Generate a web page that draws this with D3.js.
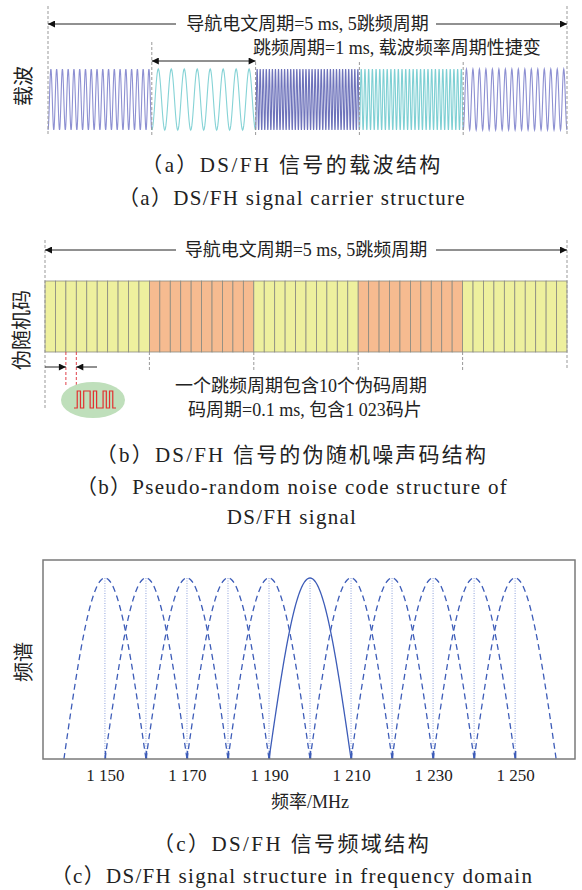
<!DOCTYPE html>
<html>
<head>
    <meta charset="utf-8">
    <title>DS/FH</title>
    <script src="https://cdnjs.cloudflare.com/ajax/libs/d3/7.8.5/d3.min.js"></script>
    <style>
        body { margin: 0; background: #fff; }
        text { font-family: "Liberation Serif", "Noto Sans CJK SC", serif; fill: #222; }
        .cjk { font-family: "Noto Sans CJK SC", sans-serif; }
    </style>
</head>
<body>
<div id="chart"></div>
<script>
    // (a) carrier: cycles drawn inside each 1 ms hop
    var hopCycles = [18, 8, 34, 28, 16];
    var hopColors = ["#8d90d2", "#86d3d6", "#6e73bb", "#7fd0d4", "#8d90d2"];
    // (b) code periods per hop and hop colours
    var codePerHop = 10;
    var hopFill = ["#eef09e", "#f6bb90", "#eef09e", "#f6bb90", "#eef09e"];
    var chips = [0, 1, 0, 1, 1, 0, 1, 0, 0, 1, 0, 1, 0];
    // (c) hop channel centres, MHz
    var centres = [1150, 1160, 1170, 1180, 1190, 1200, 1210, 1220, 1230, 1240, 1250];
    var activeCentre = 1200;
    var tickVals = [1150, 1160, 1170, 1180, 1190, 1200, 1210, 1220, 1230, 1240, 1250];
    var labelVals = [1150, 1170, 1190, 1210, 1230, 1250];

    var width = 582, height = 890;
    var svg = d3.select("#chart").append("svg")
        .attr("width", width)
        .attr("height", height);

    var defs = svg.append("defs");
    defs.append("marker")
        .attr("id", "arr")
        .attr("viewBox", "0 0 10 10")
        .attr("refX", 10).attr("refY", 5)
        .attr("markerWidth", 9).attr("markerHeight", 7)
        .attr("markerUnits", "userSpaceOnUse")
        .attr("orient", "auto-start-reverse")
        .append("path").attr("d", "M0,0L10,5L0,10Z").attr("fill", "#111");

    function arrow(g, x1, x2, y) {
        g.append("line")
            .attr("x1", x1).attr("x2", x2).attr("y1", y).attr("y2", y)
            .attr("stroke", "#222").attr("stroke-width", 1)
            .attr("marker-end", "url(#arr)");
    }
    function vdash(g, x, y1, y2, col) {
        g.append("line")
            .attr("x1", x).attr("x2", x).attr("y1", y1).attr("y2", y2)
            .attr("stroke", col || "#999").attr("stroke-width", 1)
            .attr("stroke-dasharray", "3,2");
    }
    function vlabel(g, txt, x, y) {
        g.append("text").attr("class", "cjk")
            .attr("transform", "translate(" + x + "," + y + ") rotate(-90)")
            .attr("text-anchor", "middle").attr("dominant-baseline", "central")
            .attr("font-size", 20).text(txt);
    }
    // captions: chinese lines get a wider spacing than english ones
    function caption(txt, y, sp) {
        svg.append("text")
            .attr("x", 292).attr("y", y)
            .attr("text-anchor", "middle")
            .attr("font-size", 21)
            .attr("letter-spacing", sp || 1.3)
            .text(txt);
    }

    // ---------- (a) carrier structure ----------
    var ga = svg.append("g");
    var xa = d3.scaleLinear().domain([0, 5]).range([48, 567]);
    var ya = d3.scaleLinear().domain([-1, 1]).range([130, 69]);
    var wave = d3.line().x(function(d) { return xa(d[0]); }).y(function(d) { return ya(d[1]); });

    hopCycles.forEach(function(n, i) {
        var pts = [], N = n * 24;
        for (var k = 0; k <= N; k++) {
            var t = k / N;
            pts.push([i + t, -Math.cos(2 * Math.PI * n * t)]);
        }
        ga.append("path").attr("d", wave(pts))
            .attr("fill", "none").attr("stroke", hopColors[i]).attr("stroke-width", 1.1);
    });

    vdash(ga, xa(0), 6, 136);
    vdash(ga, xa(1), 42, 136);
    [2, 3, 4].forEach(function(t) { vdash(ga, xa(t), 62, 136); });
    vdash(ga, xa(5), 6, 136);

    ga.append("text").attr("x", xa(2.5)).attr("y", 30).attr("text-anchor", "middle")
        .attr("font-size", 18).text("导航电文周期=5 ms, 5跳频周期");
    arrow(ga, 176, xa(0), 24);
    arrow(ga, 436, xa(5), 24);

    ga.append("text").attr("x", 253).attr("y", 54)
        .attr("font-size", 18).text("跳频周期=1 ms, 载波频率周期性捷变");
    ga.append("line").attr("x1", xa(1)).attr("x2", xa(2)).attr("y1", 61).attr("y2", 61)
        .attr("stroke", "#222").attr("marker-start", "url(#arr)").attr("marker-end", "url(#arr)");

    vlabel(ga, "载波", 22, 86);

    caption("（a）DS/FH 信号的载波结构", 172, 2.4);
    caption("（a）DS/FH signal carrier structure", 205);

    // ---------- (b) PRN code structure ----------
    var gb = svg.append("g");
    var xb = d3.scaleLinear().domain([0, 5]).range([45, 567]);
    var cells = d3.range(5 * codePerHop).map(function(k) {
        return { t0: k / codePerHop, t1: (k + 1) / codePerHop, hop: Math.floor(k / codePerHop) };
    });
    gb.selectAll("rect.cell").data(cells).enter().append("rect")
        .attr("class", "cell")
        .attr("x", function(d) { return xb(d.t0); })
        .attr("width", function(d) { return xb(d.t1) - xb(d.t0); })
        .attr("y", 281).attr("height", 71)
        .attr("fill", function(d) { return hopFill[d.hop]; })
        .attr("stroke", "#8a8a80").attr("stroke-width", 0.8);

    vdash(gb, xb(0), 240, 408);
    vdash(gb, xb(5), 240, 370);
    [1, 2, 3, 4].forEach(function(t) { vdash(gb, xb(t), 352, 371); });

    gb.append("text").attr("x", xb(2.5)).attr("y", 256).attr("text-anchor", "middle")
        .attr("font-size", 18).text("导航电文周期=5 ms, 5跳频周期");
    arrow(gb, 176, xb(0), 250);
    arrow(gb, 436, xb(5), 250);

    vdash(gb, xb(0.2), 352, 386, "#e0404a");
    vdash(gb, xb(0.3), 352, 386, "#e0404a");
    arrow(gb, xb(0), xb(0.2), 367);
    arrow(gb, 97, xb(0.3), 367);

    gb.append("ellipse").attr("cx", 93).attr("cy", 400).attr("rx", 32).attr("ry", 18)
        .attr("fill", "#bfdfbb");
    var xc = d3.scaleLinear().domain([0, chips.length]).range([74, 116]);
    var yc = d3.scaleLinear().domain([0, 1]).range([408, 391]);
    var sq = d3.line().curve(d3.curveStepAfter)
        .x(function(d, i) { return xc(i); }).y(function(d) { return yc(d); });
    gb.append("path").attr("d", sq(chips.concat([chips[chips.length - 1]])))
        .attr("fill", "none").attr("stroke", "#e23030").attr("stroke-width", 1.2);

    gb.append("text").attr("x", 175).attr("y", 392).attr("font-size", 18)
        .text("一个跳频周期包含10个伪码周期");
    gb.append("text").attr("x", 188).attr("y", 416).attr("font-size", 18)
        .text("码周期=0.1 ms, 包含1 023码片");

    vlabel(gb, "伪随机码", 20, 330);

    caption("（b）DS/FH 信号的伪随机噪声码结构", 462, 2.2);
    caption("（b）Pseudo-random noise code structure of", 494);
    caption("DS/FH signal", 524);

    // ---------- (c) frequency domain ----------
    var gc = svg.append("g");
    var x0 = 43, x1 = 575, yTop = 560, yBot = 759;
    var xf = d3.scaleLinear().domain([1134.9, 1264.6]).range([x0, x1]);
    var yf = d3.scaleLinear().domain([0, 1]).range([yBot, 578]);
    var lobe = d3.line().x(function(d) { return xf(d[0]); }).y(function(d) { return yf(d[1]); });

    centres.forEach(function(c) {
        gc.append("line")
            .attr("x1", xf(c)).attr("x2", xf(c)).attr("y1", yf(0)).attr("y2", yf(1))
            .attr("stroke", "#7189d2").attr("stroke-width", 0.8).attr("stroke-dasharray", "1,1.5");
        var pts = d3.range(0, 81).map(function(k) {
            var f = c - 10 + k * 20 / 80;
            return [f, Math.max(0, Math.cos(Math.PI / 2 * (f - c) / 10))];
        });
        gc.append("path").attr("d", lobe(pts))
            .attr("fill", "none").attr("stroke", "#3d5cb8").attr("stroke-width", 1.3)
            .attr("stroke-dasharray", c === activeCentre ? null : "6,4");
    });

    var ax = d3.axisBottom(xf).tickValues(tickVals).tickSize(-8).tickPadding(10)
        .tickFormat(function(d) {
            return labelVals.indexOf(d) >= 0 ? d3.format(",")(d).replace(",", " ") : "";
        });
    var axg = gc.append("g").attr("transform", "translate(0," + yBot + ")").call(ax);
    axg.select(".domain").remove();
    axg.selectAll(".tick line").attr("stroke", "#3d5cb8").attr("stroke-width", 1.5);
    axg.selectAll(".tick text").attr("font-size", 17)
        .style("font-family", "'Liberation Serif', serif").attr("fill", "#222");

    gc.append("rect").attr("x", x0).attr("y", yTop).attr("width", x1 - x0).attr("height", yBot - yTop)
        .attr("fill", "none").attr("stroke", "#7a7a7a").attr("stroke-width", 1.5);

    gc.append("text").attr("x", 310).attr("y", 808).attr("text-anchor", "middle")
        .attr("font-size", 18).text("频率/MHz");
    vlabel(gc, "频谱", 22, 662);

    caption("（c）DS/FH 信号频域结构", 851, 2.4);
    caption("（c）DS/FH signal structure in frequency domain", 883);
</script>
</body>
</html>
